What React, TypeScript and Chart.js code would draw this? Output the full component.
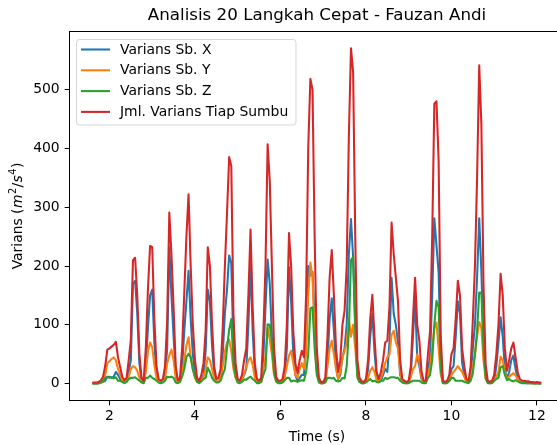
import { useEffect, useRef } from "react";
import { Chart, registerables } from "chart.js";

Chart.register(...registerables);

// ---- data (sampling grid: start time and step, seconds) ----
const T0 = 1.6;
const DT = 0.05;

const VAR_X = [
  1, 1, 1, 1, 2, 3, 5, 12, 12, 10,
  12, 20, 15, 8, 3, 2, 4, 20, 40, 170,
  175, 120, 35, 5, 2, 30, 95, 150, 160, 70,
  15, 3, 2, 3, 15, 60, 232, 150, 80, 18,
  3, 4, 30, 90, 140, 192, 110, 50, 18, 4,
  2, 5, 15, 55, 160, 140, 65, 15, 3, 4,
  10, 50, 120, 160, 218, 205, 60, 12, 3, 2,
  6, 15, 25, 100, 205, 90, 20, 4, 2, 4,
  45, 130, 211, 170, 80, 25, 4, 2, 2, 3,
  12, 60, 198, 140, 50, 15, 5, 10, 15, 15,
  80, 200, 184, 190, 110, 25, 4, 1, 1, 5,
  40, 110, 145, 90, 30, 8, 15, 45, 60, 100,
  220, 280, 215, 100, 15, 3, 1, 1, 3, 25,
  80, 119, 55, 10, 3, 5, 15, 25, 20, 70,
  180, 119, 100, 70, 15, 3, 2, 1, 2, 15,
  80, 145, 45, 30, 8, 2, 2, 25, 45, 150,
  281, 235, 190, 40, 2, 1, 2, 5, 25, 30,
  80, 140, 120, 35, 15, 3, 2, 15, 60, 100,
  180, 281, 192, 70, 15, 2, 1, 2, 5, 30,
  70, 113, 80, 25, 8, 20, 40, 48, 25, 8,
  3, 2, 2, 1, 1, 1, 1, 1, 1, 1,
  1,
];

const VAR_Y = [
  1, 1, 1, 1, 2, 4, 15, 35, 38, 42,
  45, 40, 25, 15, 6, 3, 3, 12, 25, 30,
  28, 22, 10, 3, 2, 20, 55, 70, 62, 32,
  10, 3, 2, 3, 10, 35, 48, 58, 40, 10,
  2, 3, 18, 40, 65, 79, 45, 25, 10, 3,
  2, 6, 12, 25, 45, 40, 25, 10, 3, 4,
  10, 30, 55, 70, 75, 55, 25, 10, 3, 2,
  6, 18, 28, 40, 45, 32, 10, 3, 2, 3,
  25, 45, 95, 75, 50, 15, 4, 2, 2, 3,
  12, 30, 48, 56, 35, 15, 10, 25, 35, 25,
  50, 150, 206, 180, 80, 20, 4, 1, 1, 3,
  30, 60, 73, 50, 25, 8, 20, 45, 55, 70,
  110, 80, 100, 60, 15, 4, 2, 1, 3, 10,
  22, 28, 20, 7, 3, 10, 20, 35, 45, 50,
  83, 90, 70, 60, 20, 3, 2, 1, 2, 12,
  25, 30, 50, 38, 10, 2, 2, 15, 30, 60,
  95, 104, 60, 15, 2, 1, 2, 5, 15, 20,
  25, 30, 25, 20, 12, 3, 2, 10, 30, 50,
  80, 105, 95, 40, 8, 2, 1, 2, 5, 12,
  20, 46, 40, 20, 8, 12, 15, 18, 14, 8,
  3, 2, 2, 2, 2, 1, 1, 1, 1, 1,
  1,
];

const VAR_Z = [
  0, 0, 0, 1, 2, 5, 10, 11, 10, 11,
  9, 11, 5, 5, 3, 1, 3, 8, 10, 10,
  11, 8, 5, 2, 1, 10, 10, 14, 10, 8,
  5, 2, 1, 2, 5, 12, 11, 12, 10, 2,
  1, 3, 12, 25, 45, 51, 45, 25, 12, 3,
  1, 4, 8, 10, 27, 20, 10, 5, 2, 2,
  5, 16, 25, 60, 92, 110, 35, 13, 2, 1,
  3, 7, 7, 10, 12, 8, 5, 1, 1, 3,
  15, 25, 101, 100, 70, 20, 4, 1, 1, 2,
  6, 10, 10, 4, 5, 5, 3, 5, 6, 5,
  20, 50, 128, 130, 60, 15, 2, 1, 1, 2,
  10, 10, 9, 10, 5, 4, 5, 10, 9, 30,
  90, 210, 215, 90, 10, 3, 1, 1, 2, 5,
  8, 4, 5, 3, 2, 5, 5, 10, 8, 10,
  11, 11, 10, 10, 5, 2, 1, 1, 1, 3,
  5, 5, 5, 5, 2, 1, 1, 10, 15, 40,
  100, 141, 130, 25, 1, 1, 1, 5, 10, 10,
  5, 5, 5, 5, 3, 2, 1, 5, 17, 50,
  90, 155, 155, 60, 10, 1, 1, 1, 5, 8,
  10, 28, 30, 15, 6, 8, 5, 4, 6, 4,
  2, 1, 1, 1, 1, 1, 1, 0, 1, 0,
  0,
];

const VAR_SUM = [
  2, 2, 2, 3, 6, 12, 30, 58, 60, 63,
  66, 71, 45, 28, 12, 6, 10, 40, 75, 210,
  214, 150, 50, 10, 5, 60, 160, 234, 232, 110,
  30, 8, 5, 8, 30, 107, 291, 220, 130, 30,
  6, 10, 60, 155, 250, 322, 200, 100, 40, 10,
  5, 15, 35, 90, 232, 200, 100, 30, 8, 10,
  25, 96, 200, 290, 385, 370, 120, 35, 8, 5,
  15, 40, 60, 150, 262, 130, 35, 8, 5, 10,
  85, 200, 407, 345, 200, 60, 12, 5, 5, 8,
  30, 100, 256, 200, 90, 35, 18, 40, 56, 45,
  150, 400, 518, 500, 250, 60, 10, 3, 3, 10,
  80, 180, 227, 150, 60, 20, 40, 100, 124, 200,
  420, 570, 530, 250, 40, 10, 4, 3, 8, 40,
  110, 151, 80, 20, 8, 20, 40, 70, 73, 130,
  274, 220, 180, 140, 40, 8, 5, 3, 5, 30,
  110, 180, 100, 73, 20, 5, 5, 50, 90, 250,
  476, 480, 380, 80, 5, 3, 5, 15, 50, 60,
  110, 175, 150, 60, 30, 8, 5, 30, 107, 200,
  350, 541, 442, 170, 33, 5, 3, 5, 15, 50,
  100, 187, 150, 60, 22, 40, 60, 70, 45, 20,
  8, 5, 5, 4, 4, 3, 3, 2, 3, 2,
  2,
];

const SERIES_LABELS = [
  "Varians Sb. X",
  "Varians Sb. Y",
  "Varians Sb. Z",
  "Jml. Varians Tiap Sumbu",
];
const X_TICKS = [2, 4, 6, 8, 10, 12];
const Y_TICKS = [0, 100, 200, 300, 400, 500];
const TITLE = "Analisis 20 Langkah Cepat - Fauzan Andi";
const X_LABEL = "Time (s)";

// ---- styling / layout ----
const COLORS = ["#1f77b4", "#ff7f0e", "#2ca02c", "#d62728"];
const FONT = '"DejaVu Sans", "Liberation Sans", sans-serif';
const FS = 13.9;
const TITLE_FS = 16.7;
const W = 580;
const H = 445;
const AREA = { left: 69.5, top: 31.5, right: 564.5, bottom: 400.5 };
const X_MIN = 1.065;
const X_MAX = 12.645;
const Y_MIN = -28.5;
const Y_MAX = 598.5;
const LINE_W = 2.08;
const TICK_LEN = 4.86;

const TIMES = VAR_SUM.map((_, i) => +(T0 + i * DT).toFixed(2));

const decor = {
  id: "decor",
  afterDatasetsDraw(chart: any) {
    const ctx: CanvasRenderingContext2D = chart.ctx;
    const a = chart.chartArea;
    ctx.save();
    // frame (spines)
    ctx.strokeStyle = "#000";
    ctx.lineWidth = 1;
    ctx.strokeRect(a.left, a.top, a.right - a.left, a.bottom - a.top);

    ctx.fillStyle = "#000";
    ctx.textBaseline = "alphabetic";
    // title
    ctx.font = `${TITLE_FS}px ${FONT}`;
    ctx.textAlign = "center";
    const cx = (a.left + a.right) / 2;
    ctx.fillText(TITLE, cx, 20);
    // x label
    ctx.font = `${FS}px ${FONT}`;
    ctx.fillText(X_LABEL, cx, 440.5);

    // y label with math
    const reg = `${FS}px ${FONT}`;
    const ita = `oblique ${FS}px ${FONT}`;
    const sup = `${(FS * 0.7).toFixed(2)}px ${FONT}`;
    const parts = [
      { t: "Varians (", f: reg, dy: 0, gap: 0 },
      { t: "m", f: ita, dy: 0, gap: 0.5 },
      { t: "2", f: sup, dy: -5.5, gap: 0.5 },
      { t: "/", f: reg, dy: 0, gap: 0.3 },
      { t: "s", f: ita, dy: 0, gap: 0.3 },
      { t: "4", f: sup, dy: -5.5, gap: 0.5 },
      { t: ")", f: reg, dy: 0, gap: 0.5 },
    ];
    let total = 0;
    const widths = parts.map((p) => {
      ctx.font = p.f;
      const w = ctx.measureText(p.t).width + p.gap;
      total += w;
      return w;
    });
    ctx.save();
    ctx.translate(21.5, (a.top + a.bottom) / 2);
    ctx.rotate(-Math.PI / 2);
    ctx.textAlign = "left";
    let x = -total / 2;
    parts.forEach((p, i) => {
      ctx.font = p.f;
      ctx.fillText(p.t, x + p.gap, p.dy);
      x += widths[i];
    });
    ctx.restore();

    // legend
    const lx0 = 76.5;
    const ly0 = 39.5;
    const lx1 = 296;
    const ly1 = 125;
    const r = 3;
    ctx.beginPath();
    ctx.moveTo(lx0 + r, ly0);
    ctx.lineTo(lx1 - r, ly0);
    ctx.quadraticCurveTo(lx1, ly0, lx1, ly0 + r);
    ctx.lineTo(lx1, ly1 - r);
    ctx.quadraticCurveTo(lx1, ly1, lx1 - r, ly1);
    ctx.lineTo(lx0 + r, ly1);
    ctx.quadraticCurveTo(lx0, ly1, lx0, ly1 - r);
    ctx.lineTo(lx0, ly0 + r);
    ctx.quadraticCurveTo(lx0, ly0, lx0 + r, ly0);
    ctx.closePath();
    ctx.fillStyle = "rgba(255,255,255,0.8)";
    ctx.fill();
    ctx.strokeStyle = "rgba(204,204,204,0.8)";
    ctx.lineWidth = 1;
    ctx.stroke();

    ctx.font = `${FS}px ${FONT}`;
    ctx.textAlign = "left";
    ctx.textBaseline = "middle";
    SERIES_LABELS.forEach((label, i) => {
      const y = 49.5 + i * 20.8;
      ctx.strokeStyle = COLORS[i];
      ctx.lineWidth = LINE_W;
      ctx.beginPath();
      ctx.moveTo(81, y);
      ctx.lineTo(110, y);
      ctx.stroke();
      ctx.fillStyle = "#000";
      ctx.fillText(label, 120, y + 0.5);
    });
    ctx.restore();
  },
};

export default function App() {
  const ref = useRef<HTMLCanvasElement | null>(null);

  useEffect(() => {
    if (!ref.current) return;
    const seriesValues = [VAR_X, VAR_Y, VAR_Z, VAR_SUM];
    const datasets = seriesValues.map((vals, i) => ({
      label: SERIES_LABELS[i],
      data: vals.map((v, k) => ({ x: TIMES[k], y: v })),
      borderColor: COLORS[i],
      backgroundColor: COLORS[i],
      borderWidth: LINE_W,
      pointRadius: 0,
      tension: 0,
      fill: false,
      borderJoinStyle: "round" as const,
      order: 3 - i,
    }));
    const tickFont = { family: FONT, size: FS };
    const chart = new Chart(ref.current, {
      type: "line",
      data: { datasets },
      options: {
        animation: false,
        responsive: false,
        devicePixelRatio: 1,
        layout: {
          padding: { top: AREA.top, right: W - AREA.right, left: 0, bottom: 0 },
        },
        plugins: {
          legend: { display: false },
          title: { display: false },
          tooltip: { enabled: false },
        },
        scales: {
          x: {
            type: "linear",
            min: X_MIN,
            max: X_MAX,
            afterBuildTicks: (s: any) => {
              s.ticks = X_TICKS.map((v) => ({ value: v }));
            },
            afterFit: (s: any) => {
              s.height = H - AREA.bottom;
            },
            grid: {
              drawOnChartArea: false,
              drawTicks: true,
              tickLength: TICK_LEN,
              tickWidth: 1,
              tickColor: "#000",
            },
            border: { display: false },
            ticks: {
              color: "#000",
              font: tickFont,
              padding: 2.5,
              maxRotation: 0,
              autoSkip: false,
              callback: (v: any) => String(v),
            },
          },
          y: {
            type: "linear",
            min: Y_MIN,
            max: Y_MAX,
            afterBuildTicks: (s: any) => {
              s.ticks = Y_TICKS.map((v) => ({ value: v }));
            },
            afterFit: (s: any) => {
              s.width = AREA.left;
            },
            grid: {
              drawOnChartArea: false,
              drawTicks: true,
              tickLength: TICK_LEN,
              tickWidth: 1,
              tickColor: "#000",
            },
            border: { display: false },
            ticks: {
              color: "#000",
              font: tickFont,
              padding: 5,
              autoSkip: false,
              callback: (v: any) => String(v),
            },
          },
        },
      },
      plugins: [decor],
    });
    return () => chart.destroy();
  }, []);

  return (
    <div
      style={{
        position: "fixed",
        left: 0,
        top: 0,
        width: W,
        height: H,
        overflow: "hidden",
        background: "#fff",
      }}
    >
      <canvas ref={ref} width={W} height={H} style={{ display: "block" }} />
    </div>
  );
}
